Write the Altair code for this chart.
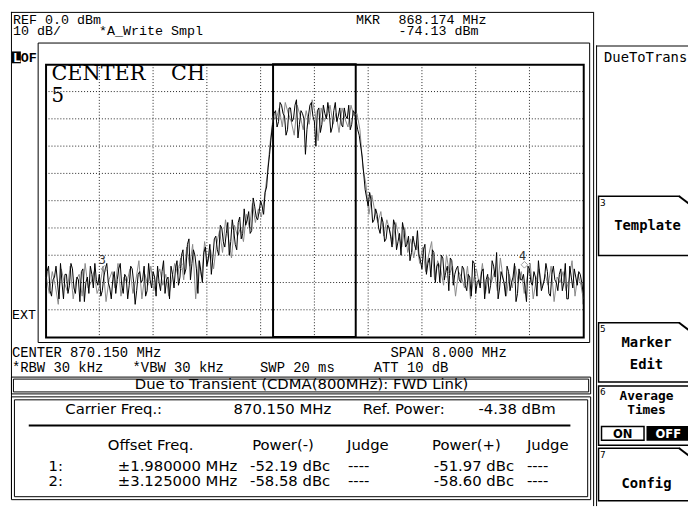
import altair as alt
import numpy as np
import pandas as pd

# ---------------- data ----------------
F_START, F_STOP = 866.15, 874.15          # CENTER 870.150 MHz, SPAN 8 MHz
REF_TOP, REF_BOT = 0, -100                # REF 0.0 dBm, 10 dB/div
CH_EDGES = [869.535, 870.765]             # centre channel window
GRID_F = [866.15, 866.95, 867.75, 868.55, 869.35, 870.15,
          870.95, 871.75, 872.55, 873.35, 874.15]
GRID_DB = [0, -10, -20, -30, -40, -50, -60, -70, -80, -90, -100]

# black trace, sweep points (even)
TRACE_BLACK = [
    -82, -74, -85, -78, -80, -73, -86, -77, -81, -75, -84, -79, -76, -87, -78, -74, -82, -79,
    -77, -83, -75, -80, -86, -76, -79, -73, -84, -78, -81, -75, -88, -77, -80, -74, -83, -79, -76, -85,
    -80, -76, -84, -78, -74, -82,
    -72, -78, -68, -75, -64, -73, -70, -84, -76, -69, -74, -66, -71,
    -63, -70, -60, -67, -58, -65, -61, -68, -56, -62,
    -59, -54, -61, -52, -57, -50, -55,
    -45, -33, -22,
    -17, -21, -15, -19, -24, -16, -20, -13, -22, -18, -33, -19, -14, -21, -17, -25, -15, -20, -18, -23,
    -14, -19, -22, -16, -20, -24, -17, -21,
    -26, -34, -46, -52, -50, -57,
    -55, -62, -58, -64, -60, -67, -59, -65, -70, -61, -66, -72, -63, -68,
    -70, -75, -66, -73, -78, -69, -74, -80, -71, -76, -83, -72, -77, -74,
    -80, -75, -83, -78, -72, -84, -79, -76, -86, -77, -81, -74, -69, -82, -78, -85, -76, -80, -73, -84,
    -79, -77, -87, -75, -81, -78, -72, -83, -79, -76, -85, -74, -80, -77, -83, -73, -86, -78, -75, -81,
    -77, -84,
]
# black trace, sweep points (odd, between the even ones)
TRACE_BLACK_ODD = [
    -76, -83, -79, -74, -86, -80, -77, -84, -73, -82, -78, -87, -75, -80, -84, -77, -73, -81,
    -85, -78, -73, -82, -79, -84, -75, -81, -77, -86, -74, -80, -83, -76, -79, -85, -73, -82, -78, -74,
    -83, -72, -79, -86, -77, -75,
    -81, -70, -77, -66, -79, -68, -75, -72, -80, -67, -71, -77, -64,
    -68, -59, -65, -62, -70, -57, -66, -58, -64, -53,
    -57, -62, -49, -56, -54, -52, -47,
    -38, -27, -18,
    -23, -14, -18, -26, -16, -21, -15, -27, -17, -20, -24, -15, -19, -30, -16, -22, -18, -14, -25, -17,
    -21, -16, -23, -19, -15, -22, -18, -24,
    -30, -40, -49, -47, -58, -53,
    -60, -56, -65, -59, -63, -57, -68, -62, -58, -67, -63, -69, -66, -61,
    -72, -68, -77, -71, -68, -80, -73, -70, -79, -74, -71, -81, -75, -79,
    -74, -81, -77, -85, -73, -80, -82, -75, -79, -84, -72, -78, -86, -76, -80, -74, -83, -78, -87, -75,
    -79, -82, -74, -80, -76, -85, -78, -81, -73, -84, -77, -79, -83, -75, -80, -86, -74, -82, -78, -76,
    -80, -88,
]
# gray (second) trace
TRACE_GRAY = [
    -78, -84, -76, -81, -88, -75, -80, -83, -74, -86, -79, -77, -85, -73, -82, -80, -76, -84,
    -81, -74, -87, -79, -76, -82, -73, -85, -78, -80, -75, -84, -79, -72, -86, -77, -81, -74, -83, -78,
    -75, -81, -77, -85, -79, -73,
    -77, -71, -79, -67, -74, -66, -86, -72, -78, -65, -73, -68, -75,
    -66, -61, -69, -57, -64, -71, -59, -63, -60, -65,
    -55, -60, -51, -58, -53, -56, -49,
    -40, -28, -19,
    -20, -16, -23, -14, -18, -21, -26, -15, -19, -24, -17, -22, -13, -18, -28, -16, -21, -19, -15, -22,
    -18, -25, -16, -20, -23, -15, -19, -18,
    -24, -38, -44, -55, -48, -54,
    -58, -54, -63, -57, -61, -66, -58, -63, -67, -60, -69, -64, -71, -65,
    -73, -67, -76, -70, -65, -79, -72, -75, -81, -70, -77, -74, -85, -76,
    -78, -82, -74, -86, -79, -75, -81, -73, -84, -78, -80, -76, -83, -71, -79, -85, -77, -82, -74, -80,
    -76, -84, -78, -73, -86, -79, -75, -82, -77, -81, -74, -87, -78, -80, -76, -83, -79, -72, -85, -77,
    -81, -86,
]
MKR_F = [868.174, 872.126, 867.025, 873.275]
MKR_DB = [-74.13, -77.0, -75.0, -73.5]
MKR_LBL = ["", "", "3", "4"]

HEADER = ["REF 0.0 dBm", "10 dB/", "*A_Write Smpl", "MKR", "868.174 MHz", "-74.13 dBm"]
FOOTER = ["CENTER 870.150 MHz", "SPAN 8.000 MHz", "*RBW 30 kHz", "*VBW 30 kHz", "SWP 20 ms", "ATT 10 dB"]
TITLE = "Due to Transient (CDMA(800MHz): FWD Link)"
CARRIER = ["Carrier Freq.:", "870.150 MHz", "Ref. Power:", "-4.38 dBm"]
COLS = ["Offset Freq.", "Power(-)", "Judge", "Power(+)", "Judge"]
ROW_IDX = ["1:", "2:"]
OFFSETS = ["±1.980000 MHz", "±3.125000 MHz"]
PWR_MINUS = ["-52.19 dBc", "-58.58 dBc"]
PWR_PLUS = ["-51.97 dBc", "-58.60 dBc"]
JUDGE = ["----", "----"]
SOFTKEYS = ["DueToTrans", "Template", "Marker", "Edit", "Average", "Times", "ON", "OFF", "Config"]

# ---------------- helpers ----------------
def P(v):
    return v - 8

MONO = "Liberation Mono"
KEYF = "DejaVu Sans Mono"
SANS = "DejaVu Sans"
NARROW = "DejaVu Sans Condensed, Liberation Sans Narrow, DejaVu Sans"

def txt(s, x, y, size=13.5, font=MONO, align="left", weight="normal", color="black"):
    return alt.Chart().mark_text(text=s, align=align, baseline="alphabetic", font=font,
                                 fontSize=size, fontWeight=weight, color=color).encode(
        x=alt.value(P(x)), y=alt.value(P(y)))

def hline(x1, x2, y, w=1, color="black"):
    return alt.Chart().mark_rule(color=color, strokeWidth=w).encode(
        x=alt.value(P(x1)), x2=alt.value(P(x2)), y=alt.value(P(y) + 0.5))

def vline(x, y1, y2, w=1, color="black"):
    return alt.Chart().mark_rule(color=color, strokeWidth=w).encode(
        x=alt.value(P(x) + 0.5), y=alt.value(P(y1)), y2=alt.value(P(y2)))

def box(x1, y1, x2, y2, w=1, stroke="black", fill="transparent"):
    return alt.Chart().mark_rect(stroke=stroke, strokeWidth=w, fill=fill).encode(
        x=alt.value(P(x1) + 0.5), x2=alt.value(P(x2) + 0.5),
        y=alt.value(P(y1) + 0.5), y2=alt.value(P(y2) + 0.5))

def diag(x1, y1, x2, y2, w=2):
    return alt.Chart().mark_rule(color="black", strokeWidth=w).encode(
        x=alt.value(P(x1)), y=alt.value(P(y1)), x2=alt.value(P(x2)), y2=alt.value(P(y2)))

# ---------------- scales ----------------
GX0, GX1, GY0, GY1 = 46, 590, 62, 338
xs = alt.Scale(domain=[F_START, F_STOP], range=[P(GX0), P(GX1)], nice=False, zero=False)
ys = alt.Scale(domain=[REF_BOT, REF_TOP], range=[P(GY1), P(GY0)], nice=False, zero=False)

freqs = np.linspace(F_START, F_STOP, len(TRACE_BLACK))
step = freqs[1] - freqs[0]
freqs_odd = np.clip(freqs + step / 2, F_START, F_STOP)
freqs_gray = np.clip(freqs + step / 4, F_START, F_STOP)
trace_df = pd.concat([
    pd.DataFrame({"f": freqs_gray, "v": TRACE_GRAY, "t": "gray"}),
    pd.DataFrame({"f": freqs, "v": TRACE_BLACK, "t": "black"}),
    pd.DataFrame({"f": freqs_odd, "v": TRACE_BLACK_ODD, "t": "black"}),
])
gridf_df = pd.DataFrame({"f": GRID_F[1:-1]})
griddb_df = pd.DataFrame({"v": GRID_DB[1:-1]})
ch_df = pd.DataFrame({"f": [CH_EDGES[0]], "f2": [CH_EDGES[1]]})
mkr_df = pd.DataFrame({"f": MKR_F, "v": MKR_DB, "l": MKR_LBL})

layers = []

# screen frame / header
layers += [hline(11, 600, 9), vline(11, 9, 502), vline(600, 9, 509)]
layers += [txt(HEADER[0], 13, 21), txt(HEADER[1], 13, 32), txt(HEADER[2], 100, 32),
           txt(HEADER[3], 360, 21), txt(HEADER[4], 403, 21), txt(HEADER[5], 403, 32)]
# plot frame
layers += [box(38, 40, 596, 343)]
layers += [alt.Chart().mark_rect(fill="black").encode(
    x=alt.value(P(12)), x2=alt.value(P(21)), y=alt.value(P(49)), y2=alt.value(P(61))),
    txt("L", 13, 60, weight="bold", color="white"), txt("OF", 21, 60, weight="bold"),
    txt("EXT", 12, 320)]

# graticule grid
layers.append(alt.Chart(gridf_df).mark_rule(color="#222", strokeWidth=1, strokeDash=[1, 2]).encode(
    x=alt.X("f:Q", scale=xs, axis=None), y=alt.value(P(GY0)), y2=alt.value(P(GY1))))
layers.append(alt.Chart(griddb_df).mark_rule(color="#222", strokeWidth=1, strokeDash=[1, 2]).encode(
    y=alt.Y("v:Q", scale=ys, axis=None), x=alt.value(P(GX0)), x2=alt.value(P(GX1))))
layers.append(box(GX0, GY0, GX1, GY1, w=2))

# centre channel window
layers.append(alt.Chart(ch_df).mark_rect(stroke="black", strokeWidth=2, fill="transparent").encode(
    x=alt.X("f:Q", scale=xs, axis=None), x2="f2:Q", y=alt.value(P(GY0)), y2=alt.value(P(GY1))))

# traces
layers.append(alt.Chart(trace_df).mark_line(strokeWidth=1, interpolate="linear").encode(
    x=alt.X("f:Q", scale=xs, axis=None), y=alt.Y("v:Q", scale=ys, axis=None),
    detail="t:N",
    color=alt.Color("t:N", scale=alt.Scale(domain=["gray", "black"], range=["#8a8a8a", "#000000"]),
                    legend=None),
    order=alt.Order("f:Q")))

# markers
layers.append(alt.Chart(mkr_df).mark_point(shape="diamond", size=45, filled=False,
                                           color="#777", strokeWidth=1).encode(
    x=alt.X("f:Q", scale=xs, axis=None), y=alt.Y("v:Q", scale=ys, axis=None)))
layers.append(alt.Chart(mkr_df).mark_text(font=KEYF, fontSize=12, dx=-2, dy=-9, color="#333").encode(
    x=alt.X("f:Q", scale=xs, axis=None), y=alt.Y("v:Q", scale=ys, axis=None), text="l:N"))

# CENTER CH label
layers += [txt("CENTER", 52, 78, size=21, font="DejaVu Serif"),
           txt("CH", 173, 78, size=21, font="DejaVu Serif"),
           txt("5", 52, 100, size=20, font="DejaVu Serif")]

# footer
layers += [txt(FOOTER[0], 12, 358, size=14), txt(FOOTER[1], 395, 358, size=14),
           txt(FOOTER[2], 12, 373, size=14), txt(FOOTER[3], 134, 373, size=14),
           txt(FOOTER[4], 263, 373, size=14), txt(FOOTER[5], 378, 373, size=14)]

# title bar and table
layers += [box(11, 378, 597, 395), box(13, 380, 595, 393, w=1)]
layers.append(txt(TITLE, 305, 391, size=15, font=SANS, align="center"))
layers += [box(11, 398, 597, 502), box(14, 401, 594, 499)]
layers += [txt(CARRIER[0], 66, 416, size=15, font=SANS),
           txt(CARRIER[1], 335, 416, size=15, font=SANS, align="right"),
           txt(CARRIER[2], 367, 416, size=15, font=SANS),
           txt(CARRIER[3], 562, 416, size=15, font=SANS, align="right")]
layers.append(hline(29, 577, 427, w=2))
col_x = [109, 255, 351, 437, 533]
for s, x in zip(COLS, col_x):
    layers.append(txt(s, x, 452, size=15, font=SANS))
for i, y in enumerate([474, 489]):
    layers += [txt(ROW_IDX[i], 49, y, size=15, font=SANS),
               txt(OFFSETS[i], 240, y, size=15, font=SANS, align="right"),
               txt(PWR_MINUS[i], 334, y, size=15, font=SANS, align="right"),
               txt(JUDGE[i], 352, y, size=15, font=SANS),
               txt(PWR_PLUS[i], 520, y, size=15, font=SANS, align="right"),
               txt(JUDGE[i], 533, y, size=15, font=SANS)]

# right soft-key panel
layers += [vline(603, 43, 509), hline(603, 700, 43)]
layers.append(txt(SOFTKEYS[0], 611, 60, size=14, font=KEYF))
keys = [(195, 255, "3"), (323, 383, "5"), (387, 447, "6"), (450, 503, "7")]
for (y1, y2, n) in keys:
    layers.append(box(605, y1, 705, y2, w=1.5))
    layers.append(txt(n, 607, y1 + 10, size=9, font=SANS))
for (y1, y2, n) in [keys[0], keys[1], keys[3]]:
    layers.append(alt.Chart().mark_rect(fill="white").encode(
        x=alt.value(P(688)), x2=alt.value(P(700)), y=alt.value(P(y1 - 1)), y2=alt.value(P(y1 + 2))))
    layers.append(diag(687, y1 + 0.5, 697, y1 + 8))
layers += [txt(SOFTKEYS[1], 655, 230, size=14, font=KEYF, align="center", weight="bold"),
           txt(SOFTKEYS[2], 654, 348, size=14, font=KEYF, align="center", weight="bold"),
           txt(SOFTKEYS[3], 654, 370, size=14, font=KEYF, align="center", weight="bold"),
           txt(SOFTKEYS[4], 654, 402, size=13, font=KEYF, align="center", weight="bold"),
           txt(SOFTKEYS[5], 654, 416, size=13, font=KEYF, align="center", weight="bold"),
           txt(SOFTKEYS[8], 654, 491, size=14, font=KEYF, align="center", weight="bold")]
layers.append(box(608, 428, 651, 442, w=1.5))
layers.append(alt.Chart().mark_rect(fill="black").encode(
    x=alt.value(P(654)), x2=alt.value(P(700)), y=alt.value(P(428)), y2=alt.value(P(443))))
layers += [txt(SOFTKEYS[6], 630, 440, size=13, font=NARROW, align="center", weight="bold"),
           txt(SOFTKEYS[7], 676, 440, size=13, font=NARROW, align="center", weight="bold", color="white")]

chart = alt.layer(*layers).properties(
    width=688, height=501, autosize=alt.AutoSizeParams(type="none"), padding=0,
    background="white",
).configure_view(stroke=None)

chart.save("out.html", embed_options={"renderer": "svg", "actions": False})
